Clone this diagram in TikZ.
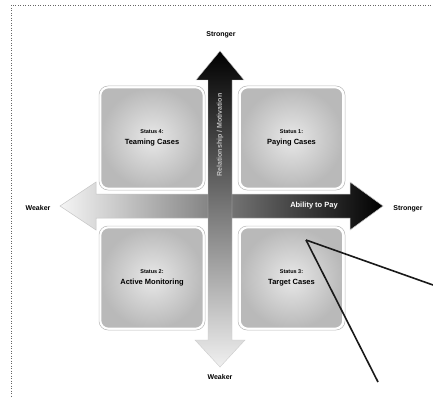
\documentclass[tikz,border=0pt]{standalone}
\usepackage{fontspec}
\setmainfont{Liberation Sans}
\begin{document}
\begin{tikzpicture}[x=1pt,y=-1pt,
  quad/.style={draw=white, line width=1.6pt, rounded corners=8pt, inner color=gray!18, outer color=gray!55,
     minimum width=103pt, minimum height=101pt, align=center, inner sep=0pt},
  quadrim/.style={draw=gray!55, line width=0.5pt, rounded corners=9pt},
  axislbl/.style={font=\fontsize{7}{8}\selectfont\bfseries, text=black},
  pointer/.style={line width=1.6pt, draw=black!90},
  border/.style={dotted, line width=0.5pt, draw=black!60}]
\useasboundingbox (0,0) rectangle (433,398);
\fill[white] (0,0) rectangle (433,398);
% page border
\coordinate (b0) at (11,5);
\coordinate (b1) at (433,5);
\coordinate (b2) at (11,398);
\draw[border] (b1) -- (b0) -- (b2);

% quadrant boxes
\draw[quadrim] (99,86) rectangle (205,190);
\draw[quadrim] (238,86) rectangle (345,190);
\draw[quadrim] (99,226) rectangle (205,330);
\draw[quadrim] (238,226) rectangle (345,330);
\node[quad] (q4) at (152,138) {\fontsize{5.5}{7}\selectfont\bfseries Status 4:\\[-1pt]\fontsize{7.5}{9}\selectfont\bfseries Teaming Cases};
\node[quad] (q1) at (291.5,138) {\fontsize{5.5}{7}\selectfont\bfseries Status 1:\\[-1pt]\fontsize{7.5}{9}\selectfont\bfseries Paying Cases};
\node[quad] (q2) at (152,278) {\fontsize{5.5}{7}\selectfont\bfseries Status 2:\\[-1pt]\fontsize{7.5}{9}\selectfont\bfseries Active Monitoring};
\node[quad] (q3) at (291.5,278) {\fontsize{5.5}{7}\selectfont\bfseries Status 3:\\[-1pt]\fontsize{7.5}{9}\selectfont\bfseries Target Cases};

% horizontal arrow
\shade[left color=gray!8, right color=black, draw=gray!45, line width=0.5pt]
  (60,206) -- (96,182) -- (96,194) -- (350,194) -- (350,182) -- (383,206)
  -- (350,230) -- (350,218) -- (96,218) -- (96,230) -- cycle;
% vertical arrow
\shade[top color=black, bottom color=gray!12, draw=gray!40, line width=0.4pt]
  (220,51) -- (244,80) -- (232,80) -- (232,340) -- (245,340) -- (220,367)
  -- (195,340) -- (208,340) -- (208,80) -- (196,80) -- cycle;

\node[rotate=90, font=\fontsize{7}{8}\selectfont\bfseries, text=gray!50] (rel) at (220,135) {Relationship / Motivation};
\node[font=\fontsize{7.5}{9}\selectfont\bfseries, text=white] (atp) at (314,206) {Ability to Pay};

% axis labels
\node[axislbl] (ts) at (221,35) {Stronger};
\node[axislbl] (bw) at (220,377) {Weaker};
\node[axislbl] (lw) at (38,208) {Weaker};
\node[axislbl] (rs) at (408,209) {Stronger};

% pointer lines
\coordinate (pt) at (306,240);
\coordinate (pe1) at (433,285);
\coordinate (pe2) at (378,382);
\draw[pointer] (pt) -- (pe1);
\draw[pointer] (pt) -- (pe2);
\end{tikzpicture}
\end{document}
